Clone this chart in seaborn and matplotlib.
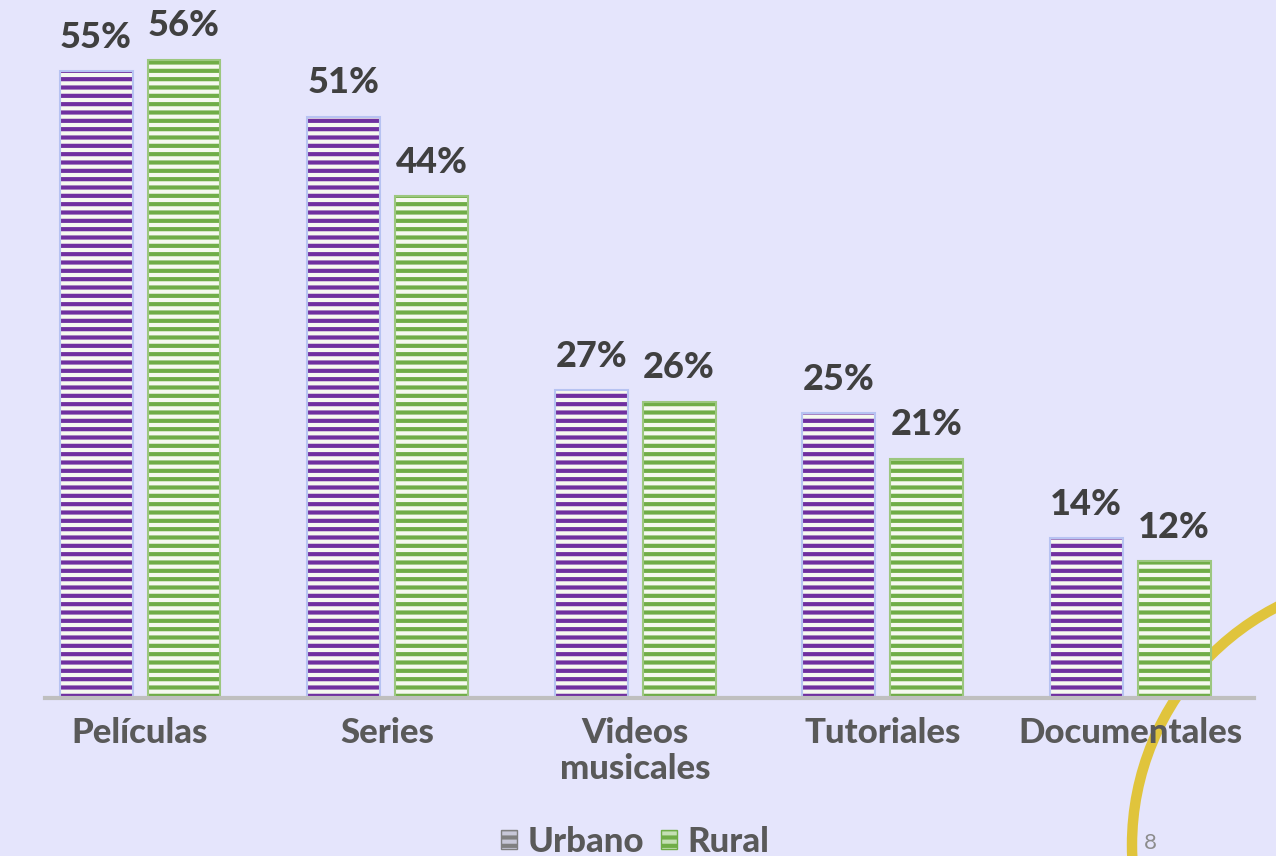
import matplotlib
matplotlib.use('Agg')
import matplotlib.pyplot as plt
import seaborn as sns
import pandas as pd
from matplotlib.patches import Patch, Rectangle, Ellipse

categories = ['Películas', 'Series', 'Videos\nmusicales', 'Tutoriales', 'Documentales']
urbano = [55, 51, 27, 25, 14]
rural = [56, 44, 26, 21, 12]
series_names = ['Urbano', 'Rural']

df = pd.DataFrame({
    'categoria': categories * 2,
    'valor': urbano + rural,
    'zona': ['Urbano'] * len(categories) + ['Rural'] * len(categories),
})

sns.set_theme(style='white')
plt.rcParams['font.family'] = ['Lato', 'DejaVu Sans']
plt.rcParams['hatch.linewidth'] = 3.0

BG = '#E5E5FC'
fig = plt.figure(figsize=(12.76, 8.56), dpi=100, facecolor=BG)
ax = fig.add_axes([45 / 1276, 158 / 856, 1209 / 1276, 698 / 856])
ax.set_facecolor('none')

stripe = {'Urbano': '#7030A0', 'Rural': '#70AD47'}
outline = {'Urbano': '#B7C3F2', 'Rural': '#9CC77F'}

sns.barplot(data=df, x='categoria', y='valor', hue='zona', hue_order=series_names,
            order=categories, width=0.71, gap=0.17, palette=stripe, ax=ax,
            legend=False, errorbar=None)

for name, cont in zip(series_names, ax.containers):
    for bar in cont:
        bar.set_facecolor('#F6F9F0')
        bar.set_edgecolor(stripe[name])
        bar.set_hatch('--')
        bar.set_linewidth(0)
        ax.add_patch(Rectangle((bar.get_x(), bar.get_y()), bar.get_width(), bar.get_height(),
                               fill=False, edgecolor=outline[name], linewidth=1.5, zorder=bar.get_zorder() + 0.1))
    vals = urbano if name == 'Urbano' else rural
    ax.bar_label(cont, labels=[f'{v}%' for v in vals], padding=12.5, fontsize=26,
                 fontweight='black', color='#404040')

ax.set_ylim(0, 698 / 11.40)
ax.set_xlim(-0.384, 4.5)
ax.set_yticks([])
ax.set_xlabel('')
ax.set_ylabel('')
ax.set_xticks(range(len(categories)))
ax.set_xticklabels(categories, fontsize=25, fontweight='black', color='#595959', linespacing=1.12)
ax.tick_params(axis='x', length=0, pad=14)
for s in ['top', 'left', 'right']:
    ax.spines[s].set_visible(False)
ax.spines['bottom'].set_color('#BFBFBF')
ax.spines['bottom'].set_linewidth(3)

handles = [
    Patch(facecolor='#C8C8D8', edgecolor='#808080', hatch='--', label='Urbano'),
    Patch(facecolor='#C5E0B4', edgecolor='#70AD47', hatch='--', label='Rural'),
]
fig.legend(handles=handles, loc='center', bbox_to_anchor=(635 / 1276, 1 - 842 / 856),
           ncol=2, frameon=False, prop={'weight': 'black', 'size': 25}, labelcolor='#595959',
           handlelength=0.45, handleheight=0.45, handletextpad=0.3, columnspacing=0.5)

fig.text(1150 / 1276, 1 - 843 / 856, '8', color='#8C8C8C', fontsize=16, ha='center', va='center')

arc = Ellipse((1400 / 1276, 1 - 845 / 856), 2 * 268 / 1276, 2 * 268 / 856,
              transform=fig.transFigure, fill=False, edgecolor='#E0C43C', linewidth=7.5, zorder=-1)
fig.add_artist(arc)

fig.savefig('out.png', dpi=100, facecolor=BG)
